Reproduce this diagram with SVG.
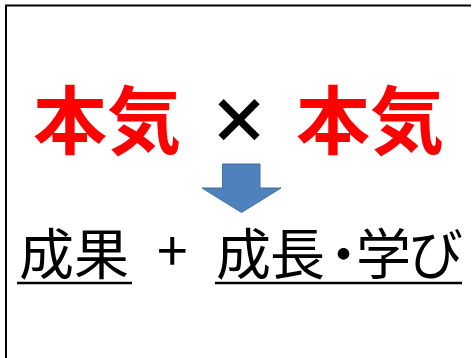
<svg xmlns="http://www.w3.org/2000/svg" width="474" height="358" viewBox="0 0 474 358">
<style>
.big{font-family:"Noto Sans CJK JP","Noto Sans CJK SC",sans-serif;font-weight:700;font-size:74px;fill:#FF0000}
.x{font-family:"Noto Sans CJK JP",sans-serif;font-weight:900;font-size:62px;fill:#000}
.res{font-family:"Noto Sans CJK JP",sans-serif;font-weight:400;font-size:55px;fill:#000}
.ul{stroke:#000;stroke-width:2.5}
</style>
<rect width="474" height="358" fill="#fff"/>
<path d="M6,358 V5.5 H471" fill="none" stroke="#000" stroke-width="2"/>
<g id="top">
<text class="big" x="33" y="148">本気</text>
<text class="x" x="208" y="144">×</text>
<text class="big" x="296" y="148">本気</text>
</g>
<g id="arrow">
<path d="M222.5,164 H260 V188 H281 L241.5,212.5 L202,188 H222.5 Z" fill="#4F81BD" stroke="#41719C" stroke-width="1"/>
</g>
<g id="bottom">
<text class="res" x="19" y="274">成果</text>
<line class="ul" x1="17" y1="283" x2="132" y2="283"/>
<text class="res" x="157" y="271" font-size="46">+</text>
<text class="res" x="216 270 316 356 408" y="274">成長・学び</text>
<line class="ul" x1="215" y1="283" x2="462" y2="283"/>
</g>
</svg>
